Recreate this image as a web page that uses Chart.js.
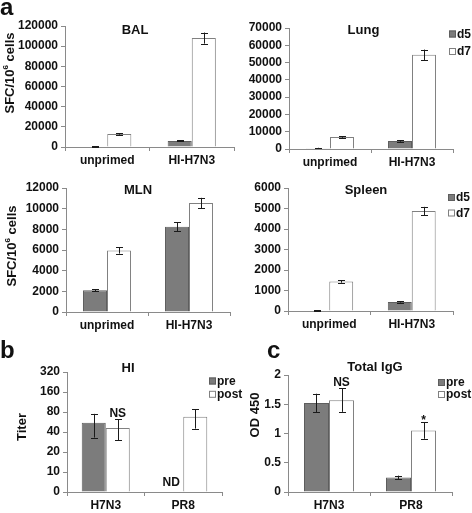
<!DOCTYPE html>
<html>
<head>
<meta charset="utf-8">
<script src="https://cdn.jsdelivr.net/npm/chart.js@4.4.1/dist/chart.umd.min.js"></script>
<style>
  html, body { margin: 0; padding: 0; background: #fff; }
  #wrap { position: relative; width: 472px; height: 513px; }
  #wrap canvas { position: absolute; left: 0; top: 0; }
</style>
</head>
<body>
<div id="wrap">
  <canvas id="bal" width="472" height="513"></canvas>
  <canvas id="lung" width="472" height="513"></canvas>
  <canvas id="mln" width="472" height="513"></canvas>
  <canvas id="spleen" width="472" height="513"></canvas>
  <canvas id="hi" width="472" height="513"></canvas>
  <canvas id="igg" width="472" height="513"></canvas>
</div>
<script>
// ---- data ----
const sfcGroups = ['unprimed', 'HI-H7N3'];
const dayLabels = ['d5', 'd7'];

const balD5 = [600, 6000];
const balD5Err = [300, 500];
const balD7 = [13000, 108000];
const balD7Err = [800, 5500];

const lungD5 = [500, 4600];
const lungD5Err = [200, 400];
const lungD7 = [7000, 54500];
const lungD7Err = [500, 3000];

const mlnD5 = [2100, 8250];
const mlnD5Err = [100, 450];
const mlnD7 = [5950, 10550];
const mlnD7Err = [300, 500];

const spleenD5 = [20, 440];
const spleenD5Err = [10, 30];
const spleenD7 = [1440, 4880];
const spleenD7Err = [60, 200];

const antigens = ['H7N3', 'PR8'];
const phaseLabels = ['pre', 'post'];

// HI titers (two-fold dilution axis)
const hiTicks = [0, 10, 20, 40, 80, 160, 320];
const hiPre = [55, null];
const hiPreLow = [33, null];
const hiPreHigh = [75, null];
const hiPreMarks = ['', 'ND'];
const hiPost = [46, 68];
const hiPostLow = [30, 45];
const hiPostHigh = [62, 88];
const hiPostMarks = ['NS', ''];

// total IgG OD450
const iggPre = [1.52, 0.25];
const iggPreErr = [0.16, 0.03];
const iggPost = [1.57, 1.05];
const iggPostErr = [0.2, 0.14];
const iggPostMarks = ['NS', '*'];

// ---- styling ----
const FONT = "'Liberation Sans', Arial, sans-serif";
const AXIS = '#8a8a8a';
const INK = '#111';
const DARK = { backgroundColor: '#7c7c7c', borderColor: '#5e5e5e' };
const LIGHT = { backgroundColor: '#ffffff', borderColor: '#808080' };

// titers sit on a log2 axis: 0, 10, 20, 40 ... equally spaced
const hiPos = t => (t == null ? null : (t > 0 ? Math.log2(t / 5) : 0));

function withErr(vals, err) {
  return {
    errLow: vals.map((v, i) => v - err[i]),
    errHigh: vals.map((v, i) => v + err[i])
  };
}

// error bars, markers, free text and legend
const panelDecor = {
  id: 'panelDecor',
  afterDatasetsDraw(chart) {
    const ctx = chart.ctx;
    const y = chart.scales.y;
    chart.data.datasets.forEach((ds, i) => {
      const meta = chart.getDatasetMeta(i);
      meta.data.forEach((bar, j) => {
        let top = ds.data[j] == null ? y.getPixelForValue(0) - 4 : y.getPixelForValue(ds.data[j]);
        if (ds.errLow && ds.errLow[j] != null) {
          const y1 = y.getPixelForValue(ds.errLow[j]);
          const y2 = y.getPixelForValue(ds.errHigh[j]);
          const x = Math.round(bar.x) + 0.5;
          ctx.save();
          ctx.strokeStyle = '#1a1a1a';
          ctx.lineWidth = 1;
          ctx.beginPath();
          ctx.moveTo(x, y1); ctx.lineTo(x, y2);
          ctx.moveTo(x - 3.5, Math.round(y1) + 0.5); ctx.lineTo(x + 3.5, Math.round(y1) + 0.5);
          ctx.moveTo(x - 3.5, Math.round(y2) + 0.5); ctx.lineTo(x + 3.5, Math.round(y2) + 0.5);
          ctx.stroke();
          ctx.restore();
          top = y2;
        }
        const mark = ds.marks ? ds.marks[j] : '';
        if (mark) {
          ctx.save();
          ctx.fillStyle = INK;
          ctx.font = 'bold 12px ' + FONT;
          ctx.textAlign = 'center';
          ctx.textBaseline = 'alphabetic';
          ctx.fillText(mark, bar.x, top - (mark === '*' ? -2 : 2));
          ctx.restore();
        }
      });
    });
  },
  afterDraw(chart, args, opts) {
    const ctx = chart.ctx;
    (opts.texts || []).forEach(t => {
      ctx.save();
      ctx.fillStyle = INK;
      ctx.textBaseline = t.baseline || 'middle';
      ctx.translate(t.x, t.y);
      if (t.rotate) ctx.rotate(-Math.PI / 2);
      const parts = t.parts || [{ text: t.text }];
      const size = t.size || 13;
      const fontFor = p => 'bold ' + (p.sup ? Math.round(size * 0.6) : size) + 'px ' + FONT;
      let w = 0;
      parts.forEach(p => { ctx.font = fontFor(p); w += ctx.measureText(p.text).width; });
      let x = t.align === 'left' ? 0 : -w / 2;
      ctx.textAlign = 'left';
      parts.forEach(p => {
        ctx.font = fontFor(p);
        ctx.fillText(p.text, x, p.sup ? -size * 0.35 : 0);
        x += ctx.measureText(p.text).width;
      });
      ctx.restore();
    });
    const lg = opts.legend;
    if (lg) {
      chart.data.datasets.forEach((ds, i) => {
        const cy = lg.y + i * lg.dy;
        ctx.save();
        ctx.fillStyle = ds.backgroundColor;
        ctx.strokeStyle = ds.borderColor;
        ctx.lineWidth = 1;
        ctx.fillRect(lg.x, cy - 3.5, 7, 7);
        ctx.strokeRect(lg.x + 0.5, cy - 3, 6, 6);
        ctx.fillStyle = INK;
        ctx.font = 'bold 12px ' + FONT;
        ctx.textAlign = 'left';
        ctx.textBaseline = 'middle';
        ctx.fillText(ds.label, lg.x + 8, cy + 0.5);
        ctx.restore();
      });
    }
  }
};

function makeChart(id, p) {
  const tickFont = { family: FONT, size: 12, weight: 'bold' };
  return new Chart(document.getElementById(id), {
    type: 'bar',
    data: { labels: p.labels, datasets: p.datasets },
    plugins: [panelDecor],
    options: {
      responsive: false,
      animation: false,
      events: [],
      layout: {
        padding: { left: 0, top: p.area.top, right: 472 - p.area.right, bottom: 513 - p.area.bottom - 20 }
      },
      datasets: {
        bar: { categoryPercentage: p.catPct, barPercentage: 1, borderWidth: 1 }
      },
      scales: {
        x: {
          offset: true,
          grid: { offset: true, drawOnChartArea: false, tickLength: 4, color: AXIS },
          border: { color: AXIS },
          ticks: { font: tickFont, color: INK, padding: 2 },
          afterFit: s => { s.height = 20; }
        },
        y: {
          min: 0,
          max: p.yMax,
          grid: { drawOnChartArea: false, tickLength: 4, color: AXIS },
          border: { color: AXIS },
          ticks: {
            font: tickFont, color: INK, padding: 3, stepSize: p.step, autoSkip: false,
            callback: p.tickFmt || (v => String(v))
          },
          afterFit: s => { s.width = p.area.left; }
        }
      },
      plugins: {
        legend: { display: false },
        tooltip: { enabled: false },
        panelDecor: { texts: p.texts || [], legend: p.legend || null }
      }
    }
  });
}

const sfcTitle = (x, y) => ({ x, y, rotate: true, parts: [{ text: 'SFC/10' }, { text: '6', sup: true }, { text: ' cells' }] });

function sfcSets(d5, d5Err, d7, d7Err) {
  return [
    Object.assign({ label: dayLabels[0], data: d5 }, DARK, withErr(d5, d5Err)),
    Object.assign({ label: dayLabels[1], data: d7 }, LIGHT, withErr(d7, d7Err))
  ];
}

makeChart('bal', {
  labels: sfcGroups,
  datasets: sfcSets(balD5, balD5Err, balD7, balD7Err),
  area: { left: 65, right: 234, top: 26, bottom: 147 },
  catPct: 0.57, yMax: 120000, step: 20000,
  texts: [
    { text: 'a', x: 0, y: 15, size: 24, align: 'left', baseline: 'alphabetic' },
    { text: 'BAL', x: 135, y: 30 },
    sfcTitle(10, 73)
  ]
});

makeChart('lung', {
  labels: sfcGroups,
  datasets: sfcSets(lungD5, lungD5Err, lungD7, lungD7Err),
  area: { left: 289, right: 453, top: 28, bottom: 149 },
  catPct: 0.585, yMax: 70000, step: 10000,
  texts: [{ text: 'Lung', x: 363.5, y: 30 }],
  legend: { x: 449, y: 34, dy: 17.5 }
});

makeChart('mln', {
  labels: sfcGroups,
  datasets: sfcSets(mlnD5, mlnD5Err, mlnD7, mlnD7Err),
  area: { left: 66, right: 230, top: 188, bottom: 312 },
  catPct: 0.585, yMax: 12000, step: 2000,
  texts: [
    { text: 'MLN', x: 138, y: 190 },
    sfcTitle(12, 246)
  ]
});

makeChart('spleen', {
  labels: sfcGroups,
  datasets: sfcSets(spleenD5, spleenD5Err, spleenD7, spleenD7Err),
  area: { left: 288, right: 453, top: 188, bottom: 311 },
  catPct: 0.58, yMax: 6000, step: 1000,
  texts: [{ text: 'Spleen', x: 366, y: 190 }],
  legend: { x: 448, y: 197.5, dy: 15.5 }
});

makeChart('hi', {
  labels: antigens,
  datasets: [
    Object.assign({ label: phaseLabels[0], data: hiPre.map(hiPos), errLow: hiPreLow.map(hiPos), errHigh: hiPreHigh.map(hiPos), marks: hiPreMarks }, DARK),
    Object.assign({ label: phaseLabels[1], data: hiPost.map(hiPos), errLow: hiPostLow.map(hiPos), errHigh: hiPostHigh.map(hiPos), marks: hiPostMarks }, LIGHT)
  ],
  area: { left: 67, right: 222, top: 372, bottom: 492 },
  catPct: 0.62, yMax: hiTicks.length - 1, step: 1,
  tickFmt: v => String(hiTicks[v]),
  texts: [
    { text: 'b', x: 0, y: 358, size: 24, align: 'left', baseline: 'alphabetic' },
    { text: 'HI', x: 128, y: 368 },
    { text: 'Titer', x: 22.5, y: 427, rotate: true }
  ],
  legend: { x: 209, y: 381, dy: 13.3 }
});

makeChart('igg', {
  labels: antigens,
  datasets: [
    Object.assign({ label: phaseLabels[0], data: iggPre }, DARK, withErr(iggPre, iggPreErr)),
    Object.assign({ label: phaseLabels[1], data: iggPost, marks: iggPostMarks }, LIGHT, withErr(iggPost, iggPostErr))
  ],
  area: { left: 288, right: 452, top: 375, bottom: 492 },
  catPct: 0.61, yMax: 2, step: 0.5,
  texts: [
    { text: 'c', x: 267, y: 358, size: 24, align: 'left', baseline: 'alphabetic' },
    { text: 'Total IgG', x: 375, y: 367 },
    { text: 'OD 450', x: 255, y: 415, rotate: true }
  ],
  legend: { x: 438, y: 382.5, dy: 12 }
});
</script>
</body>
</html>
